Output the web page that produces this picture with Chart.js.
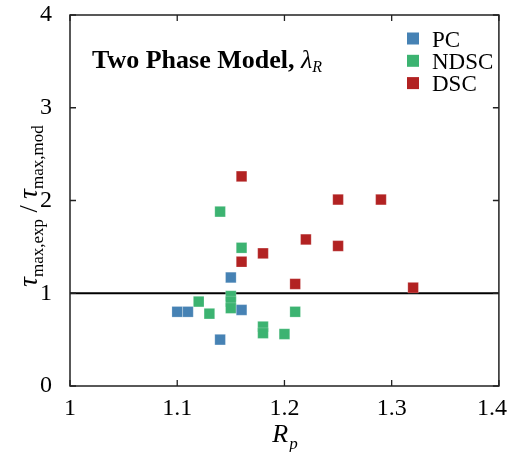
<!DOCTYPE html>
<html>
<head>
<meta charset="utf-8">
<script src="https://cdn.jsdelivr.net/npm/chart.js@4/dist/chart.umd.min.js"></script>
<style>
  html, body { margin: 0; padding: 0; background: #fff; }
  #wrap { width: 507px; height: 452px; }
</style>
</head>
<body>
<div id="wrap"><canvas id="tauChart" width="507" height="452"></canvas></div>
<script>
// data
const pcX = [1.10, 1.11, 1.14, 1.15, 1.16];
const pcY = [0.80, 0.80, 0.50, 1.17, 0.82];
const ndscX = [1.12, 1.13, 1.14, 1.15, 1.15, 1.15, 1.16, 1.18, 1.18, 1.20, 1.21];
const ndscY = [0.91, 0.78, 1.88, 0.97, 0.91, 0.84, 1.49, 0.64, 0.57, 0.56, 0.80];
const dscX = [1.16, 1.16, 1.18, 1.21, 1.22, 1.25, 1.25, 1.29, 1.32];
const dscY = [2.26, 1.34, 1.43, 1.10, 1.58, 2.01, 1.51, 2.01, 1.06];
const refX = [1, 1.4];
const refY = [1, 1];
const xTickLabels = ['1', '1.1', '1.2', '1.3', '1.4'];
const yTickLabels = ['0', '1', '2', '3', '4'];
const seriesNames = ['PC', 'NDSC', 'DSC'];
const seriesColors = ['#4682b4', '#3cb371', '#b22222'];

const SERIF = '"Liberation Serif", "DejaVu Serif", serif';
const toPoints = (xs, ys) => xs.map((x, i) => ({ x, y: ys[i] }));

// frame, inward ticks, x tick labels, axis titles, panel label and legend
const decorations = {
  id: 'decorations',
  afterDraw(chart) {
    const { ctx, scales: { x, y } } = chart;
    const L = x.getPixelForValue(x.min), R = x.getPixelForValue(x.max);
    const T = y.getPixelForValue(y.max), B = y.getPixelForValue(y.min);
    ctx.save();
    ctx.strokeStyle = '#222';
    ctx.lineWidth = 1.5;
    ctx.strokeRect(L, T, R - L, B - T);

    ctx.lineWidth = 1.3;
    ctx.beginPath();
    x.ticks.forEach(t => {
      const px = x.getPixelForValue(t.value);
      ctx.moveTo(px, B); ctx.lineTo(px, B - 6);
      ctx.moveTo(px, T); ctx.lineTo(px, T + 6);
    });
    y.ticks.forEach(t => {
      const py = y.getPixelForValue(t.value);
      ctx.moveTo(L, py); ctx.lineTo(L + 6, py);
      ctx.moveTo(R, py); ctx.lineTo(R - 6, py);
    });
    ctx.stroke();

    ctx.fillStyle = '#000';
    ctx.textBaseline = 'alphabetic';

    // x tick labels
    ctx.font = '24px ' + SERIF;
    ctx.textAlign = 'center';
    x.ticks.forEach((t, i) => {
      const w = ctx.measureText(xTickLabels[i]).width;
      const px = Math.min(x.getPixelForValue(t.value), 507 - w / 2);
      ctx.fillText(xTickLabels[i], px, 415);
    });
    ctx.textAlign = 'left';

    // x title: R_p
    ctx.font = 'italic 26px ' + SERIF;
    const rW = ctx.measureText('R').width;
    ctx.font = 'italic 17px ' + SERIF;
    const pW = ctx.measureText('p').width;
    let sx = (L + R) / 2 - (rW + pW) / 2;
    ctx.font = 'italic 26px ' + SERIF;
    ctx.fillText('R', sx, 442);
    ctx.font = 'italic 17px ' + SERIF;
    ctx.fillText('p', sx + rW + 1, 449);

    // y title: tau_max,exp / tau_max,mod
    const parts = [
      { t: '\u03C4', f: 'italic 27px ' + SERIF, dy: 0 },
      { t: 'max,exp', f: '17px ' + SERIF, dy: 6 },
      { t: ' / ', f: '26px ' + SERIF, dy: 0 },
      { t: '\u03C4', f: 'italic 27px ' + SERIF, dy: 0 },
      { t: 'max,mod', f: '17px ' + SERIF, dy: 6 }
    ];
    let total = 0;
    parts.forEach(p => { ctx.font = p.f; p.w = ctx.measureText(p.t).width; total += p.w; });
    ctx.save();
    ctx.translate(37, 206);
    ctx.rotate(-Math.PI / 2);
    let tx = -total / 2;
    parts.forEach(p => { ctx.font = p.f; ctx.fillText(p.t, tx, p.dy); tx += p.w; });
    ctx.restore();

    // panel label
    ctx.font = 'bold 26px ' + SERIF;
    const head = 'Two Phase Model, ';
    ctx.fillText(head, 92, 68);
    let hx = 92 + ctx.measureText(head).width;
    ctx.font = 'italic 26px ' + SERIF;
    ctx.fillText('\u03BB', hx, 68);
    hx += ctx.measureText('\u03BB').width;
    ctx.font = 'italic 16px ' + SERIF;
    ctx.fillText('R', hx, 72);

    // legend
    ctx.font = '23px ' + SERIF;
    seriesNames.forEach((name, i) => {
      const ly = 38.5 + i * 22.3;
      ctx.fillStyle = seriesColors[i];
      ctx.fillRect(407, ly - 6, 12, 12);
      ctx.fillStyle = '#000';
      ctx.fillText(name, 432, ly + 8);
    });
    ctx.restore();
  }
};

const markerStyle = (color) => ({
  backgroundColor: color,
  borderColor: 'rgba(255,255,255,0.35)',
  borderWidth: 0.6,
  pointStyle: 'rect',
  pointRadius: 7.5,
  pointHoverRadius: 7.5,
  showLine: false
});

new Chart(document.getElementById('tauChart'), {
  type: 'scatter',
  data: {
    datasets: [
      { label: seriesNames[0], data: toPoints(pcX, pcY), ...markerStyle(seriesColors[0]), order: 1 },
      { label: seriesNames[1], data: toPoints(ndscX, ndscY), ...markerStyle(seriesColors[1]), order: 1 },
      { label: seriesNames[2], data: toPoints(dscX, dscY), ...markerStyle(seriesColors[2]), order: 1 },
      { type: 'line', label: 'ref', data: toPoints(refX, refY), borderColor: '#000', borderWidth: 1.8,
        pointRadius: 0, fill: false, order: 10 }
    ]
  },
  options: {
    responsive: false,
    animation: false,
    layout: { padding: { top: 15, right: -3, left: 0, bottom: 0 } },
    plugins: { legend: { display: false }, tooltip: { enabled: false } },
    scales: {
      x: {
        type: 'linear', min: 1, max: 1.4,
        ticks: { stepSize: 0.1, display: false },
        grid: { display: false }, border: { display: false },
        afterFit: s => { s.height = 66; s.paddingLeft = 0; s.paddingRight = 0; }
      },
      y: {
        min: 0, max: 4,
        ticks: { stepSize: 1, padding: 10, color: '#000', font: { family: SERIF, size: 24 },
          callback: (v, i) => yTickLabels[i] },
        grid: { display: false }, border: { display: false },
        afterFit: s => { s.width = 70; s.paddingTop = 0; s.paddingBottom = 0; }
      }
    }
  },
  plugins: [decorations]
});
</script>
</body>
</html>
